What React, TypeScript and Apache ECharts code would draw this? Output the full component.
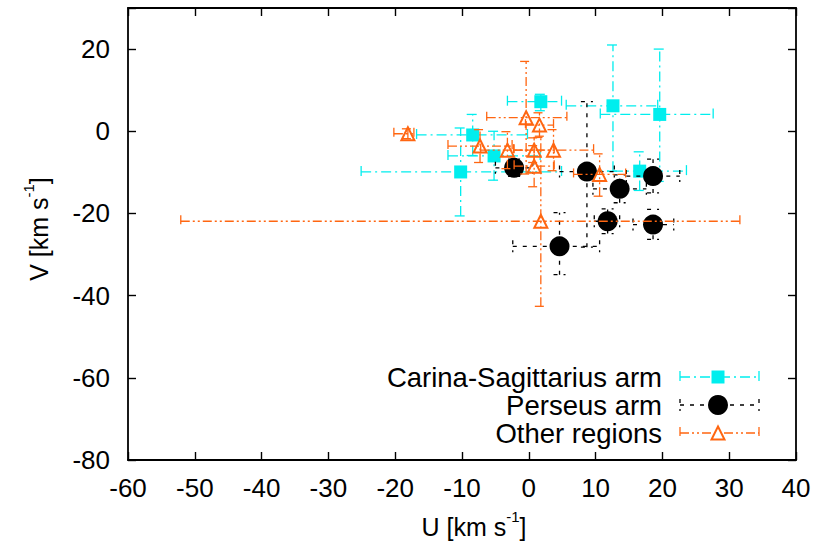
import React, { useEffect, useRef } from 'react';
import * as echarts from 'echarts';

// Carina-Sagittarius arm
const carinaU = [1.8, 12.6, 19.6, -8.4, -5.2, -10.2, 16.6];
const carinaV = [7.2, 6.2, 4.1, -0.9, -6.0, -9.9, -9.7];
const carinaULow = [-3.2, 5.6, 10.7, -16.8, -12.1, -25.1, 9.6];
const carinaUHigh = [4.9, 19.3, 27.6, -0.2, 1.7, 4.9, 23.6];
const carinaVLow = [5.0, -9.7, -12.2, -5.9, -11.9, -20.6, -14.4];
const carinaVHigh = [9.0, 21.0, 20.0, 4.1, 0.0, 0.8, -5.0];

// Perseus arm
const perseusU = [-2.2, 8.7, 13.6, 18.6, 11.8, 18.6, 4.6];
const perseusV = [-8.9, -9.8, -14.0, -10.9, -21.9, -22.7, -28.0];
const perseusULow = [-5.0, 4.6, 9.6, 14.6, 9.8, 15.6, -2.4];
const perseusUHigh = [0.6, 12.8, 17.6, 22.6, 13.6, 21.7, 10.6];
const perseusVLow = [-11.0, -28.2, -17.4, -15.0, -24.9, -26.3, -34.9];
const perseusVHigh = [-6.8, 7.2, -10.6, -6.8, -18.9, -19.0, -19.8];

// Other regions
const otherU = [-18.1, -0.4, 1.6, -7.3, -3.2, 0.8, 3.7, 0.8, 10.6, 1.8];
const otherV = [-0.6, 3.3, 1.5, -3.6, -4.6, -4.6, -4.6, -8.5, -10.5, -21.9];
const otherULow = [-20.2, -6.3, -0.5, -12.1, -7.2, -2.2, -2.3, -2.2, 6.7, -52.1];
const otherUHigh = [-17.2, 5.7, 3.7, -2.5, 0.8, 3.8, 9.7, 3.8, 14.5, 31.6];
const otherVLow = [-1.8, -10.4, -1.5, -7.6, -9.1, -7.6, -9.6, -13.5, -15.8, -42.6];
const otherVHigh = [0.6, 17.0, 4.5, 0.4, -0.1, -1.6, 0.4, -3.5, -5.5, -1.2];

const seriesNames = ['Carina-Sagittarius arm', 'Perseus arm', 'Other regions'];
const xTitle = 'U [km s';
const yTitle = 'V [km s';
const supText = '-1';

const FONT = '"Liberation Sans", Arial, Helvetica, sans-serif';
const CYAN = '#00eeee';
const BLACK = '#000000';
const ORANGE = '#ff6611';
const DASH_CYAN = [10, 4, 2, 4];
const DASH_BLACK = [4, 6];
const DASH_ORANGE = [9, 3, 2, 3, 2, 3];

function build(u: number[], v: number[], ul: number[], uh: number[], vl: number[], vh: number[]) {
  return u.map((x, i) => [x, v[i], ul[i], uh[i], vl[i], vh[i]]);
}

function errSeries(name: string, data: number[][], color: string, dash: number[], z: number) {
  return {
    type: 'custom',
    name,
    data,
    z,
    silent: true,
    clip: true,
    encode: { x: [0, 2, 3], y: [1, 4, 5] },
    renderItem: (_p: any, api: any) => {
      const u = api.value(0), v = api.value(1);
      const l = api.coord([api.value(2), v]);
      const r = api.coord([api.value(3), v]);
      const b = api.coord([u, api.value(4)]);
      const t = api.coord([u, api.value(5)]);
      const cap = 6;
      const style = { stroke: color, lineWidth: 1.3, lineDash: dash, fill: 'none' };
      const mk = (x1: number, y1: number, x2: number, y2: number) => ({
        type: 'line',
        shape: { x1, y1, x2, y2 },
        style,
      });
      return {
        type: 'group',
        children: [
          mk(l[0], l[1], r[0], r[1]),
          mk(b[0], b[1], t[0], t[1]),
          mk(l[0], l[1] - cap, l[0], l[1] + cap),
          mk(r[0], r[1] - cap, r[0], r[1] + cap),
          mk(b[0] - cap, b[1], b[0] + cap, b[1]),
          mk(t[0] - cap, t[1], t[0] + cap, t[1]),
        ],
      };
    },
  };
}

export default function App() {
  const ref = useRef<HTMLDivElement>(null);
  useEffect(() => {
    const chart = echarts.init(ref.current!, null, { renderer: 'svg' });
    const axisCommon = {
      type: 'value',
      axisLine: { show: true, onZero: false, lineStyle: { color: '#000', width: 1.8 } },
      axisTick: { show: true, inside: true, length: 8, lineStyle: { color: '#000', width: 1.4 } },
      splitLine: { show: false },
    };
    const labelStyle = { color: '#000', fontSize: 26, fontFamily: FONT };
    const legendRows = [377, 405, 433];
    const lx1 = 680, lx2 = 759, lm = 718, cap = 6;
    const legLine = (y: number, color: string, dash: number[]) => [
      { type: 'line', shape: { x1: lx1, y1: y, x2: lx2, y2: y }, style: { stroke: color, lineWidth: 1.3, lineDash: dash } },
      { type: 'line', shape: { x1: lx1, y1: y - cap, x2: lx1, y2: y + cap }, style: { stroke: color, lineWidth: 1.3, lineDash: dash } },
      { type: 'line', shape: { x1: lx2, y1: y - cap, x2: lx2, y2: y + cap }, style: { stroke: color, lineWidth: 1.3, lineDash: dash } },
    ];
    const legText = (y: number, text: string) => ({
      type: 'text',
      x: 662,
      y,
      style: { text, fontSize: 27.5, lineHeight: 26, fontFamily: FONT, fill: '#000', align: 'right', verticalAlign: 'middle' },
    });
    const richTitle = {
      a: { fontSize: 25, fontFamily: FONT, fill: '#000', color: '#000', lineHeight: 30, verticalAlign: 'bottom' },
      b: { fontSize: 15, fontFamily: FONT, fill: '#000', color: '#000', lineHeight: 15, verticalAlign: 'top' },
    };
    const option: any = {
      animation: false,
      backgroundColor: '#fff',
      grid: { left: 128, right: 19, top: 8, bottom: 89, containLabel: false },
      xAxis: [
        {
          ...axisCommon,
          min: -60,
          max: 40,
          interval: 10,
          position: 'bottom',
          axisLabel: { ...labelStyle, margin: 15 },
        },
        {
          ...axisCommon,
          min: -60,
          max: 40,
          interval: 10,
          position: 'top',
          axisLabel: { show: false },
        },
      ],
      yAxis: [
        {
          ...axisCommon,
          min: -80,
          max: 30,
          interval: 20,
          position: 'left',
          axisLabel: {
            ...labelStyle,
            margin: 18,
            formatter: (val: number) => (val === 30 ? '' : String(val)),
          },
        },
        {
          ...axisCommon,
          min: -80,
          max: 30,
          interval: 20,
          position: 'right',
          axisLabel: { show: false },
        },
      ],
      series: [
        errSeries(seriesNames[0], build(carinaU, carinaV, carinaULow, carinaUHigh, carinaVLow, carinaVHigh), CYAN, DASH_CYAN, 2),
        {
          type: 'scatter',
          name: seriesNames[0],
          data: carinaU.map((x, i) => [x, carinaV[i]]),
          symbol: 'rect',
          symbolSize: 13,
          itemStyle: { color: CYAN, opacity: 1 },
          z: 3,
        },
        errSeries(seriesNames[1], build(perseusU, perseusV, perseusULow, perseusUHigh, perseusVLow, perseusVHigh), BLACK, DASH_BLACK, 4),
        {
          type: 'scatter',
          name: seriesNames[1],
          data: perseusU.map((x, i) => [x, perseusV[i]]),
          symbol: 'circle',
          symbolSize: 20,
          itemStyle: { color: BLACK, opacity: 1 },
          z: 5,
        },
        errSeries(seriesNames[2], build(otherU, otherV, otherULow, otherUHigh, otherVLow, otherVHigh), ORANGE, DASH_ORANGE, 6),
        {
          type: 'scatter',
          name: seriesNames[2],
          data: otherU.map((x, i) => [x, otherV[i]]),
          symbol: 'triangle',
          symbolSize: 13,
          itemStyle: { color: 'rgba(255,255,255,0)', borderColor: ORANGE, borderWidth: 2, opacity: 1 },
          z: 7,
        },
      ],
      graphic: [
        legText(legendRows[0], seriesNames[0]),
        legText(legendRows[1], seriesNames[1]),
        legText(legendRows[2], seriesNames[2]),
        ...legLine(legendRows[0], CYAN, DASH_CYAN),
        { type: 'rect', shape: { x: lm - 6.5, y: legendRows[0] - 6.5, width: 13, height: 13 }, style: { fill: CYAN } },
        ...legLine(legendRows[1], BLACK, DASH_BLACK),
        { type: 'circle', shape: { cx: lm, cy: legendRows[1], r: 10 }, style: { fill: BLACK } },
        ...legLine(legendRows[2], ORANGE, DASH_ORANGE),
        {
          type: 'polygon',
          shape: { points: [[lm, legendRows[2] - 6.5], [lm + 6.5, legendRows[2] + 6.5], [lm - 6.5, legendRows[2] + 6.5]] },
          style: { fill: '#fff', stroke: ORANGE, lineWidth: 2 },
        },
        {
          type: 'text',
          x: 474,
          y: 524,
          style: { text: `{a|${xTitle}}{b|${supText}}{a|]}`, rich: richTitle, align: 'center', verticalAlign: 'middle' },
        },
        {
          type: 'text',
          x: 36,
          y: 229,
          rotation: Math.PI / 2,
          style: { text: `{a|${yTitle}}{b|${supText}}{a|]}`, rich: richTitle, align: 'center', verticalAlign: 'middle' },
        },
      ],
    };
    chart.setOption(option);
    return () => chart.dispose();
  }, []);
  return <div ref={ref} style={{ position: 'absolute', left: 0, top: 0, width: 815, height: 549 }} />;
}
